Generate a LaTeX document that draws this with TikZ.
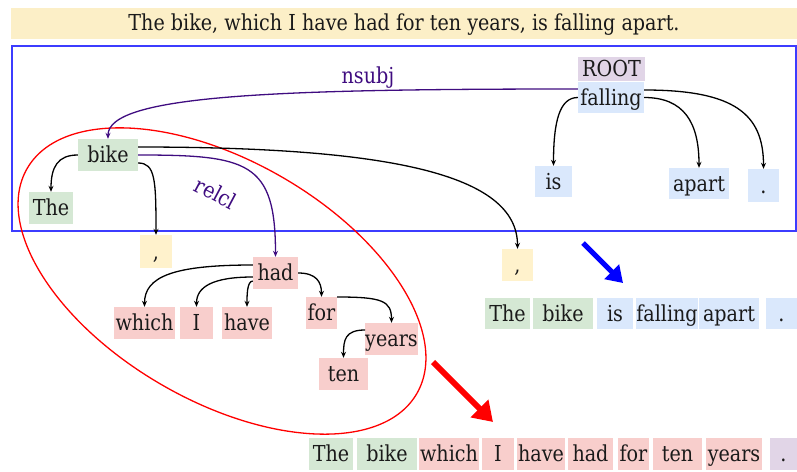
\documentclass[tikz,border=0pt]{standalone}
\usepackage{fontspec}
\setmainfont{DejaVu Serif}[FakeStretch=0.87]
\usetikzlibrary{arrows.meta,calc}
\definecolor{cgreen}{HTML}{D5E8D4}
\definecolor{cblue}{HTML}{DAE8FC}
\definecolor{cpink}{HTML}{F8CECC}
\definecolor{cyel}{HTML}{FFF2CC}
\definecolor{ctitle}{HTML}{FCEFC7}
\definecolor{clav}{HTML}{E1D5E7}
\definecolor{cpurp}{HTML}{3F0C80}
\definecolor{cframe}{HTML}{3C3CFF}
\definecolor{ctext}{HTML}{1A1A1A}
\begin{document}
\begin{tikzpicture}[x=1pt,y=-1pt,
  box/.style={inner sep=0pt, text height=18pt, text depth=3pt, minimum height=31pt,
    font=\fontsize{22}{24}\selectfont, text=ctext},
  wd/.style={minimum width=#1},
  dep/.style={line width=1.3pt, draw=black, -{Stealth[length=6pt,width=5pt]}},
  pdep/.style={dep, draw=cpurp},
  lbl/.style={font=\fontsize{22}{24}\selectfont, text=cpurp, inner sep=0pt},
  bigarrow/.style={line width=#1, -{Triangle[length=3.2*#1, width=4*#1]}}
]
\useasboundingbox (0,0) rectangle (797,471);

% title
\node[fill=ctitle, minimum width=786pt, minimum height=31pt, inner sep=0pt,
  text height=18pt, text depth=3pt,
  font=\fontsize{22}{24}\selectfont, text=ctext] (title) at (404,23)
  {The bike, which I have had for ten years, is falling apart.};

% frame
\draw[cframe, line width=1.8pt] (12,46) rectangle (796,231);

% main tree
\node[box, fill=clav, wd=67pt, minimum height=24pt] (root) at (611.5,69) {ROOT};
\node[box, fill=cblue, wd=66pt] (falling) at (611,97.5) {falling};
\node[box, fill=cblue, wd=37pt] (is) at (553.5,181.5) {is};
\node[box, fill=cblue, wd=60pt] (apart) at (699,183.5) {apart};
\node[box, fill=cblue, wd=31pt, minimum height=33pt] (dotA) at (763.5,185.5) {.};
\node[box, fill=cgreen, wd=60pt, minimum height=32pt] (bike) at (108,155) {bike};
\node[box, fill=cgreen, wd=44pt, minimum height=32pt] (the) at (51,208) {The};
\node[box, fill=cyel, wd=32pt, minimum height=33pt] (commaA) at (156,251.5) {,};
\node[box, fill=cyel, wd=31pt, minimum height=32pt] (commaB) at (517.5,265) {,};

% relative clause
\node[box, fill=cpink, wd=45pt, minimum height=32pt] (had) at (275.5,273) {had};
\node[box, fill=cpink, wd=61pt, minimum height=32pt] (which) at (144.5,323) {which};
\node[box, fill=cpink, wd=33pt, minimum height=32pt] (I) at (196.5,323) {I};
\node[box, fill=cpink, wd=50pt, minimum height=32pt] (have) at (247,323) {have};
\node[box, fill=cpink, wd=31pt, minimum height=32pt] (for) at (321.5,313) {for};
\node[box, fill=cpink, wd=49pt, minimum height=32pt] (years) at (391.5,339) {years};
\node[box, fill=cpink, wd=49pt, minimum height=32pt] (ten) at (343.5,374) {ten};

% result row 1
\node[box, fill=cgreen, wd=45pt] (rThe) at (507.5,313.5) {The};
\node[box, fill=cgreen, wd=60pt] (rbike) at (563,313.5) {bike};
\node[box, fill=cblue, wd=36pt] (ris) at (615,313.5) {is};
\node[box, fill=cblue, wd=60pt] (rfalling) at (667,313.5) {falling};
\node[box, fill=cblue, wd=60pt] (rapart) at (729,313.5) {apart};
\node[box, fill=cblue, wd=31pt] (rdot) at (781.5,313.5) {.};

% result row 2
\node[box, fill=cgreen, wd=44pt, minimum height=32pt] (sThe) at (331,454) {The};
\node[box, fill=cgreen, wd=60pt, minimum height=32pt] (sbike) at (387,454) {bike};
\node[box, fill=cpink, wd=60pt, minimum height=32pt] (swhich) at (449,454) {which};
\node[box, fill=cpink, wd=32pt, minimum height=32pt] (sI) at (498,454) {I};
\node[box, fill=cpink, wd=48pt, minimum height=32pt] (shave) at (541,454) {have};
\node[box, fill=cpink, wd=45pt, minimum height=32pt] (shad) at (590.5,454) {had};
\node[box, fill=cpink, wd=31pt, minimum height=32pt] (sfor) at (633.5,454) {for};
\node[box, fill=cpink, wd=49pt, minimum height=32pt] (sten) at (677.5,454) {ten};
\node[box, fill=cpink, wd=56pt, minimum height=32pt] (syears) at (734,454) {years};
\node[box, fill=clav, wd=27pt, minimum height=32pt] (sdot) at (783.5,454) {.};

% red ellipse
\draw[red, line width=1.3pt, rotate around={-30:(222,281)}] (222,281) ellipse [x radius=225pt, y radius=120pt];

% dependency arcs
\draw[pdep] ([yshift=8.5pt]falling.west) .. controls +(-300,0) and +(0,-44) .. (bike.north);
\node[lbl] (nsubj) at (368,78) {nsubj};
\draw[dep] (falling.west) .. controls +(-18,0) and +(0,-45) .. (is.north);
\draw[dep] (falling.east) .. controls +(40,0) and +(0,-45) .. (apart.north);
\draw[dep] ([yshift=7.5pt]falling.east) .. controls +(90,0) and +(0,-55) .. (dotA.north);

\draw[dep] (bike.west) .. controls +(-20,0) and +(0,-25) .. (the.north);
\draw[dep] ([yshift=-8pt]bike.east) .. controls +(17,0) and +(0,-55) .. (commaA.north);
\draw[pdep] (bike.east) .. controls +(110,0) and +(0,-95) .. (had.north);
\node[lbl, rotate=-28] (relcl) at (216,193) {relcl};
\draw[dep] ([yshift=8pt]bike.east) .. controls +(250,0) and +(0,-75) .. (commaB.north);

\draw[dep] ([yshift=8pt]had.west) .. controls +(-80,0) and +(0,-30) .. (which.north);
\draw[dep] ([yshift=-4pt]had.west) .. controls +(-40,0) and +(0,-20) .. (I.north);
\draw[dep] ([yshift=-8pt]had.west) .. controls +(-6,0) and +(0,-10) .. (have.north);
\draw[dep] (had.east) .. controls +(18,0) and +(0,-15) .. (for.north);
\draw[dep] ([yshift=16pt]for.east) .. controls +(45,0) and +(0,-22) .. (years.north);
\draw[dep] ([yshift=9pt]years.west) .. controls +(-20,0) and +(0,-18) .. (ten.north);

% big arrows
\coordinate (bA) at (583,243);
\coordinate (bB) at (623,283);
\draw[blue, bigarrow=5pt] (bA) -- (bB);
\coordinate (rA) at (433,362);
\coordinate (rB) at (493,422);
\draw[red, bigarrow=6pt] (rA) -- (rB);
\end{tikzpicture}
\end{document}
